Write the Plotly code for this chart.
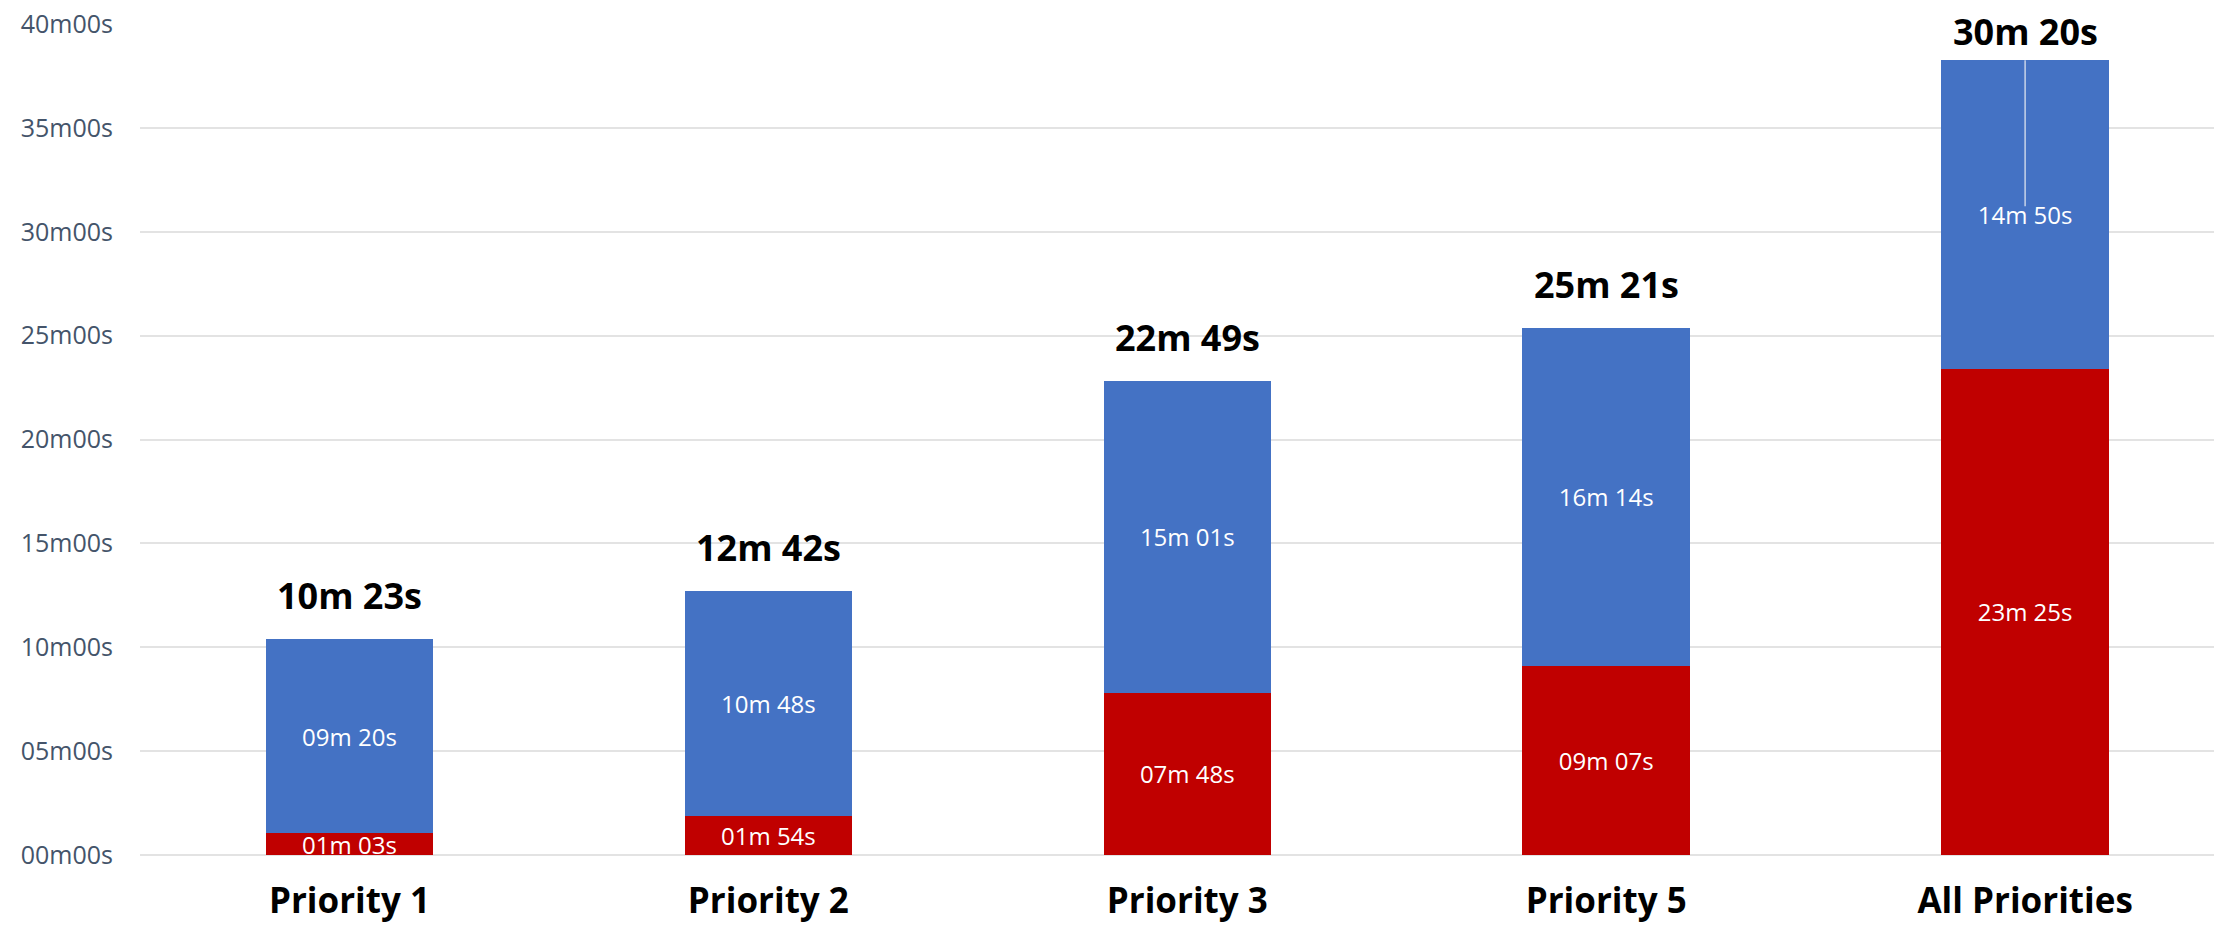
import plotly.graph_objects as go

categories = ["Priority 1", "Priority 2", "Priority 3", "Priority 5", "All Priorities"]
# minutes
red_values = [1 + 3/60, 1 + 54/60, 7 + 48/60, 9 + 7/60, 23 + 25/60]
blue_values = [9 + 20/60, 10 + 48/60, 15 + 1/60, 16 + 14/60, 14 + 50/60]
red_labels = ["01m 03s", "01m 54s", "07m 48s", "09m 07s", "23m 25s"]
blue_labels = ["09m 20s", "10m 48s", "15m 01s", "16m 14s", "14m 50s"]
total_labels = ["10m 23s", "12m 42s", "22m 49s", "25m 21s", "30m 20s"]
y_tickvals = [0, 5, 10, 15, 20, 25, 30, 35, 40]
y_ticktext = ["00m00s", "05m00s", "10m00s", "15m00s", "20m00s", "25m00s", "30m00s", "35m00s", "40m00s"]

FONT = "Open Sans"
RED = "#C00000"
BLUE = "#4472C4"

fig = go.Figure()
fig.add_trace(go.Bar(
    x=categories, y=red_values, marker=dict(color=RED, line=dict(width=0)),
    text=red_labels, textposition="inside", insidetextanchor="middle",
    constraintext="none", textangle=0,
    textfont=dict(family=FONT, size=24, color="white"), width=0.4,
    hoverinfo="skip", showlegend=False,
))
fig.add_trace(go.Bar(
    x=categories, y=blue_values, marker=dict(color=BLUE, line=dict(width=0)),
    text=blue_labels, textposition="inside", insidetextanchor="middle",
    constraintext="none", textangle=0,
    textfont=dict(family=FONT, size=24, color="white"), width=0.4,
    hoverinfo="skip", showlegend=False,
))

totals = [r + b for r, b in zip(red_values, blue_values)]
for i, (cat, tot, lab) in enumerate(zip(categories, totals, total_labels)):
    fig.add_annotation(x=cat, y=tot, text="<b>%s</b>" % lab, showarrow=False,
                       yanchor="bottom", yshift=(2 if i == len(categories) - 1 else 17),
                       font=dict(family=FONT, size=36, color="black"))

# thin leader line in the last bar (top of bar down to the blue label)
last = len(categories) - 1
fig.add_shape(type="line", xref="x", yref="y",
              x0=last, x1=last, y0=totals[last],
              y1=red_values[last] + blue_values[last] / 2 + 0.4,
              line=dict(color="#C9D3E8", width=1.5))

fig.update_layout(
    barmode="stack",
    width=2214, height=920,
    margin=dict(l=132, r=0, t=16, b=73),
    paper_bgcolor="white", plot_bgcolor="white",
)
fig.update_xaxes(
    range=[-0.5, 4.47], showgrid=False, zeroline=False, showline=False,
    tickfont=dict(family=FONT, size=35, color="black", weight="bold"),
    ticks="", ticklabelstandoff=22, automargin=False, ticklabeloverflow="allow",
)
fig.update_yaxes(
    range=[0, 40], tickvals=y_tickvals, ticktext=y_ticktext,
    showgrid=True, gridcolor="#E3E3E3", gridwidth=2,
    zeroline=True, zerolinecolor="#E3E3E3", zerolinewidth=2,
    tickfont=dict(family=FONT, size=25, color="#44546A"),
    ticks="", ticklabelstandoff=26, automargin=False, ticklabeloverflow="allow",
)

fig.write_html("out.html")
